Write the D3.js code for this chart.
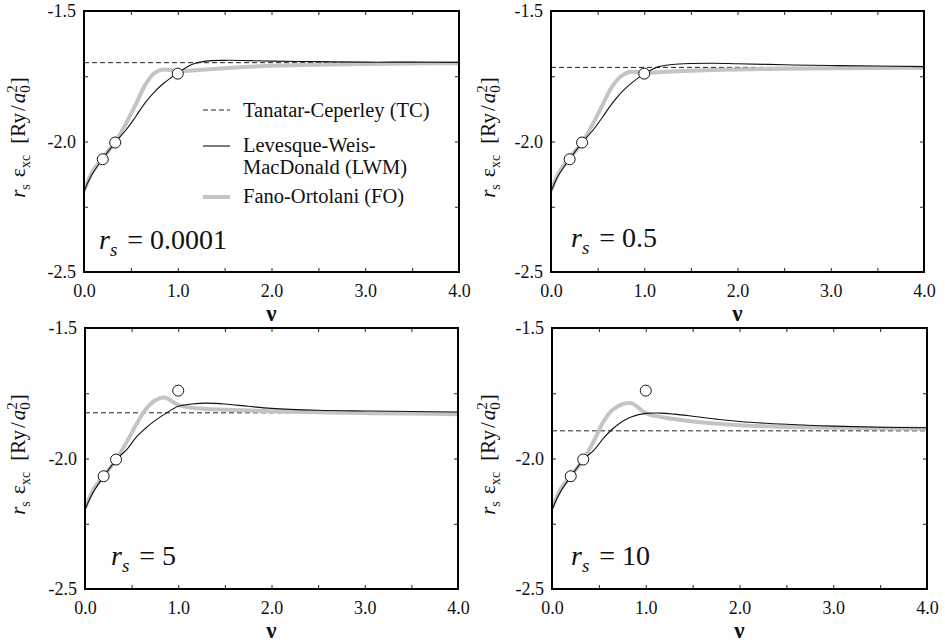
<!DOCTYPE html>
<html>
<head>
<meta charset="utf-8">
<script src="https://cdn.jsdelivr.net/npm/d3@7"></script>
</head>
<body style="margin:0">
<svg id="chart" width="945" height="643" font-family="Liberation Serif" style="font-family:'Liberation Serif'"></svg>
<script>
// ---------- DATA ----------
const panelLabels = ["0.0001", "0.5", "5", "10"];
const nu = [0, 0.05, 0.1, 0.2, 0.333, 0.45, 0.55, 0.65, 0.75, 0.85, 1.0, 1.15, 1.3, 1.5, 1.75, 2.0, 2.5, 3.0, 3.5, 4.0];

// Tanatar-Ceperley constant per panel
const tcValues = [-1.698, -1.716, -1.825, -1.894];

// Levesque-Weis-MacDonald (LWM)
const lwm_rs00001 = [-2.192, -2.150, -2.118, -2.066, -2.003, -1.955, -1.905, -1.853, -1.811, -1.777, -1.738, -1.705, -1.692, -1.689, -1.690, -1.692, -1.694, -1.696, -1.696, -1.697];
const lwm_rs05    = [-2.192, -2.150, -2.118, -2.067, -2.004, -1.957, -1.908, -1.857, -1.814, -1.780, -1.741, -1.714, -1.705, -1.701, -1.700, -1.702, -1.706, -1.709, -1.711, -1.713];
const lwm_rs5     = [-2.197, -2.155, -2.122, -2.070, -2.005, -1.965, -1.918, -1.884, -1.855, -1.831, -1.800, -1.791, -1.788, -1.791, -1.800, -1.808, -1.815, -1.818, -1.820, -1.822];
const lwm_rs10    = [-2.197, -2.155, -2.122, -2.070, -2.005, -1.967, -1.922, -1.885, -1.858, -1.840, -1.827, -1.826, -1.830, -1.838, -1.849, -1.858, -1.869, -1.876, -1.880, -1.882];

// Fano-Ortolani (FO)
const fo_rs00001 = [-2.188, -2.145, -2.110, -2.062, -2.003, -1.930, -1.860, -1.785, -1.738, -1.724, -1.731, -1.728, -1.724, -1.719, -1.714, -1.710, -1.706, -1.703, -1.701, -1.700];
const fo_rs05    = [-2.188, -2.145, -2.110, -2.063, -2.004, -1.932, -1.862, -1.793, -1.750, -1.733, -1.737, -1.735, -1.732, -1.729, -1.726, -1.724, -1.721, -1.719, -1.718, -1.717];
const fo_rs5     = [-2.190, -2.148, -2.112, -2.066, -2.005, -1.935, -1.870, -1.812, -1.778, -1.766, -1.795, -1.806, -1.810, -1.813, -1.816, -1.819, -1.823, -1.826, -1.828, -1.830];
const fo_rs10    = [-2.190, -2.148, -2.112, -2.066, -2.005, -1.930, -1.858, -1.812, -1.792, -1.789, -1.826, -1.840, -1.849, -1.858, -1.866, -1.873, -1.879, -1.882, -1.884, -1.886];

// Simulation points (same in all panels)
const circleNu  = [0.2, 0.333, 1.0];
const circleVal = [-2.068, -2.004, -1.740];

const lwmSeries = [lwm_rs00001, lwm_rs05, lwm_rs5, lwm_rs10];
const foSeries  = [fo_rs00001, fo_rs05, fo_rs5, fo_rs10];

const xTicks = [0, 0.5, 1, 1.5, 2, 2.5, 3, 3.5, 4];
const yTicks = [-2.5, -2.25, -2.0, -1.75, -1.5];
const legendLabels = ["Tanatar-Ceperley (TC)", ["Levesque-Weis-", "MacDonald (LWM)"], "Fano-Ortolani (FO)"];

// ---------- LAYOUT ----------
const panels = [
  { x: 84,  y: 11,  w: 375, h: 261, ylx: 25,  lab: [99, 249] },
  { x: 551, y: 11,  w: 373, h: 261, ylx: 495, lab: [571, 247] },
  { x: 85,  y: 328, w: 373, h: 261, ylx: 25,  lab: [111, 565] },
  { x: 552, y: 328, w: 375, h: 261, ylx: 495, lab: [571, 565] }
];

const svg = d3.select("#chart");

function T(sel) {   // serif text helper
  return sel.attr("font-family", "Liberation Serif").style("font-family", "\"Liberation Serif\"").attr("fill", "#111");
}

panels.forEach((p, i) => {
  const x = d3.scaleLinear().domain([0, 4]).range([p.x, p.x + p.w]);
  const y = d3.scaleLinear().domain([-2.5, -1.5]).range([p.y + p.h, p.y]);
  const g = svg.append("g");

  const clipId = "clip" + i;
  svg.append("clipPath").attr("id", clipId)
    .append("rect").attr("x", p.x).attr("y", p.y).attr("width", p.w).attr("height", p.h);

  const plot = g.append("g").attr("clip-path", `url(#${clipId})`);

  // TC dashed line
  plot.append("line")
    .attr("x1", x(0)).attr("x2", x(4))
    .attr("y1", y(tcValues[i])).attr("y2", y(tcValues[i]))
    .attr("stroke", "#222").attr("stroke-width", 1).attr("stroke-dasharray", "5,3");

  const line = d3.line().x((d, k) => x(nu[k])).y(d => y(d)).curve(d3.curveCatmullRom.alpha(0.5));

  // FO gray thick
  plot.append("path").datum(foSeries[i])
    .attr("d", line).attr("fill", "none")
    .attr("stroke", "#c4c4c4").attr("stroke-width", 4).attr("stroke-linecap", "round");

  // LWM black thin
  plot.append("path").datum(lwmSeries[i])
    .attr("d", line).attr("fill", "none")
    .attr("stroke", "#111").attr("stroke-width", 1.1);

  // circles
  g.selectAll("circle.pt").data(circleNu).enter().append("circle")
    .attr("class", "pt")
    .attr("cx", d => x(d)).attr("cy", (d, k) => y(circleVal[k]))
    .attr("r", 5.5).attr("fill", "#fff").attr("stroke", "#111").attr("stroke-width", 1);

  // axes
  const fmtX = d => (Math.abs(d % 1) < 1e-9 ? d.toFixed(1) : "");
  const fmtY = d => (Math.abs((d * 2) % 1) < 1e-9 ? d.toFixed(1) : "");

  const ax = g.append("g").attr("transform", `translate(0,${p.y + p.h})`)
    .call(d3.axisBottom(x).tickValues(xTicks).tickSize(-4).tickPadding(12).tickFormat(fmtX));
  const axT = g.append("g").attr("transform", `translate(0,${p.y})`)
    .call(d3.axisTop(x).tickValues(xTicks).tickSize(-4).tickFormat(""));
  const ay = g.append("g").attr("transform", `translate(${p.x},0)`)
    .call(d3.axisLeft(y).tickValues(yTicks).tickSize(-4).tickPadding(8).tickFormat(fmtY));
  const ayR = g.append("g").attr("transform", `translate(${p.x + p.w},0)`)
    .call(d3.axisRight(y).tickValues(yTicks).tickSize(-4).tickFormat(""));

  [ax, axT, ay, ayR].forEach(a => {
    a.attr("font-family", "Liberation Serif").attr("font-size", 18);
    a.select(".domain").remove();
    a.selectAll(".tick line").attr("stroke", "#222").attr("stroke-width", 1);
    T(a.selectAll(".tick text")).attr("font-size", 18);
  });

  // frame
  g.append("rect").attr("x", p.x).attr("y", p.y).attr("width", p.w).attr("height", p.h)
    .attr("fill", "none").attr("stroke", "#000").attr("stroke-width", 2);

  // x label
  T(g.append("text")).attr("x", p.x + p.w / 2).attr("y", p.y + p.h + 49)
    .attr("text-anchor", "middle").attr("font-size", 23).attr("font-weight", "bold")
    .text("ν");

  // y label
  const yl = T(g.append("text"))
    .attr("transform", `translate(${p.ylx},${p.y + p.h / 2 - 4}) rotate(-90)`)
    .attr("text-anchor", "middle").attr("font-size", 21);
  yl.append("tspan").attr("font-style", "italic").text("r");
  yl.append("tspan").attr("font-size", 14).attr("dy", 5).text("s");
  yl.append("tspan").attr("dy", -5).attr("dx", 7).attr("font-size", 22).text("ε");
  yl.append("tspan").attr("font-size", 14).attr("dy", 5).text("xc");
  yl.append("tspan").attr("dy", -5).attr("dx", 11).text("[Ry");
  yl.append("tspan").attr("dx", 2).text("/");
  yl.append("tspan").attr("dx", 2).attr("font-style", "italic").text("a");
  yl.append("tspan").attr("font-size", 15).attr("dy", 5).text("0");
  yl.append("tspan").attr("font-size", 15).attr("dy", -13).attr("dx", -7.5).text("2");
  yl.append("tspan").attr("dy", 8).attr("dx", 1).text("]");

  // panel label
  const pl = T(g.append("text")).attr("x", p.lab[0]).attr("y", p.lab[1]).attr("font-size", 28);
  pl.append("tspan").attr("font-style", "italic").text("r");
  pl.append("tspan").attr("font-style", "italic").attr("font-size", 19).attr("dy", 7).text("s");
  pl.append("tspan").attr("dy", -7).attr("dx", 10).text("= " + panelLabels[i]);

  // legend in first panel
  if (i === 0) {
    const lg = g.append("g");
    const lx0 = 203, lx1 = 230, tx = 243;
    lg.append("line").attr("x1", lx0).attr("x2", lx1).attr("y1", 110).attr("y2", 110)
      .attr("stroke", "#222").attr("stroke-width", 1).attr("stroke-dasharray", "5,3");
    T(lg.append("text")).attr("x", tx).attr("y", 117).attr("font-size", 20.5).text(legendLabels[0]);
    lg.append("line").attr("x1", lx0).attr("x2", lx1).attr("y1", 146).attr("y2", 146)
      .attr("stroke", "#111").attr("stroke-width", 1.1);
    T(lg.append("text")).attr("x", tx).attr("y", 152).attr("font-size", 20.5).text(legendLabels[1][0]);
    T(lg.append("text")).attr("x", tx).attr("y", 174).attr("font-size", 20.5).text(legendLabels[1][1]);
    lg.append("line").attr("x1", lx0).attr("x2", lx1).attr("y1", 197).attr("y2", 197)
      .attr("stroke", "#c4c4c4").attr("stroke-width", 4);
    T(lg.append("text")).attr("x", tx).attr("y", 203).attr("font-size", 20.5).text(legendLabels[2]);
  }
});
</script>
</body>
</html>
